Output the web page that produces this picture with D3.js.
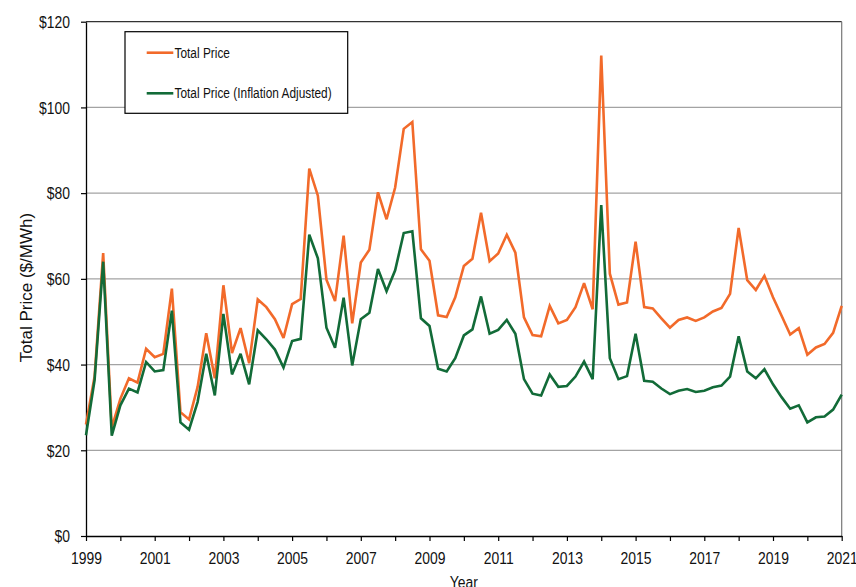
<!DOCTYPE html>
<html>
<head>
<meta charset="utf-8">
<script src="https://cdn.jsdelivr.net/npm/d3@7"></script>
<style>
  body { margin: 0; background: #fff; }
  svg { display: block; font-family: "Liberation Sans", Arial, sans-serif; }
</style>
</head>
<body>
<figure id="chart" style="margin:0"></figure>
<script>
// quarterly values, 1999 Q1 .. 2021 Q1
const startYear = 1999;
const endYear = 2021;

const totalPrice = [
  26.0, 37.2, 66.0, 25.3, 32.0, 36.8, 35.8, 43.7, 41.7, 42.5, 57.7, 28.9, 27.2, 34.8, 47.3, 36.8,
  58.5, 42.7, 48.5, 40.3, 55.2, 53.4, 50.6, 46.2, 54.1, 55.3, 85.7, 79.4, 59.8, 54.8, 70.1, 49.6,
  63.8, 66.8, 80.2, 73.9, 81.3, 95.0, 96.6, 66.9, 64.2, 51.5, 51.1, 55.7, 63.0, 64.7, 75.4, 64.1,
  65.9, 70.3, 66.1, 51.0, 46.9, 46.6, 53.7, 49.6, 50.4, 53.4, 59.0, 52.9, 112.1, 61.2, 54.0, 54.5,
  68.7, 53.4, 53.1, 50.8, 48.6, 50.4, 51.0, 50.2, 51.0, 52.4, 53.2, 56.5, 71.9, 59.7, 57.4, 60.7,
  55.7, 51.4, 47.0, 48.5, 42.3, 44.0, 44.8, 47.4, 53.7
];

const totalPriceAdjusted = [
  23.5, 36.4, 64.0, 23.4, 30.5, 34.4, 33.5, 40.6, 38.4, 38.7, 52.6, 26.5, 24.8, 31.3, 42.5, 32.8,
  51.8, 37.7, 42.5, 35.4, 48.0, 45.9, 43.5, 39.3, 45.5, 46.0, 70.3, 64.8, 48.6, 43.9, 55.6, 39.8,
  50.6, 52.1, 62.3, 57.1, 62.0, 70.7, 71.1, 50.8, 49.0, 39.0, 38.4, 41.5, 46.8, 48.2, 55.9, 47.2,
  48.1, 50.4, 47.2, 36.6, 33.2, 32.8, 37.7, 34.8, 35.0, 37.2, 40.7, 36.6, 77.2, 41.5, 36.6, 37.3,
  47.2, 36.2, 36.0, 34.4, 33.1, 33.9, 34.3, 33.6, 33.9, 34.7, 35.1, 37.2, 46.6, 38.4, 36.8, 38.9,
  35.4, 32.4, 29.7, 30.5, 26.5, 27.7, 27.9, 29.5, 33.0
];

const yTicks = [0, 20, 40, 60, 80, 100, 120];
const seriesNames = ["Total Price", "Total Price (Inflation Adjusted)"];
const seriesColors = ["#f26a2a", "#126b38"];

const width = 856, height = 587;
const plot = {left: 86, right: 841.7, top: 21.7, bottom: 536};
const squeeze = 0.82; // horizontal text narrowing seen in the source

const svg = d3.select("figure#chart")
  .append("svg")
  .attr("width", width)
  .attr("height", height);

svg.append("rect").attr("width", width).attr("height", height).attr("fill", "#fff");

const x = d3.scaleLinear().domain([startYear, endYear]).range([plot.left, plot.right]);
const y = d3.scaleLinear().domain([0, 120]).range([plot.bottom, plot.top]);

// gridlines
svg.append("g")
  .selectAll("line")
  .data(yTicks.filter(d => d > 0 && d < 120))
  .enter()
  .append("line")
  .attr("x1", plot.left)
  .attr("x2", plot.right)
  .attr("y1", d => y(d))
  .attr("y2", d => y(d))
  .attr("stroke", "#a3a3a3")
  .attr("stroke-width", 1.3);

// top + right frame
svg.append("line")
  .attr("x1", plot.left).attr("x2", plot.right)
  .attr("y1", y(120)).attr("y2", y(120))
  .attr("stroke", "#333").attr("stroke-width", 1.2);
svg.append("line")
  .attr("x1", plot.right).attr("x2", plot.right)
  .attr("y1", y(120)).attr("y2", y(0))
  .attr("stroke", "#777").attr("stroke-width", 1.2);

// x axis, a tick every year, label every other year
const years = d3.range(startYear, endYear + 1);
const xAxis = svg.append("g")
  .attr("transform", "translate(0," + plot.bottom + ")")
  .call(d3.axisBottom(x)
    .tickValues(years)
    .tickSize(5)
    .tickSizeOuter(0)
    .tickFormat(d => (d - startYear) % 2 === 0 ? String(d) : ""));
xAxis.select(".domain").attr("stroke", "#000").attr("stroke-width", 1.3);
xAxis.selectAll(".tick line").attr("stroke", "#000").attr("stroke-width", 1.2);
xAxis.selectAll("text")
  .attr("y", 16)
  .attr("dy", "0.71em")
  .attr("transform", "scale(" + squeeze + ",1)")
  .style("font-size", "17px")
  .style("font-family", "Liberation Sans, Arial, sans-serif")
  .attr("fill", "#111");

// y axis
const yAxis = svg.append("g")
  .attr("transform", "translate(" + plot.left + ",0)")
  .call(d3.axisLeft(y)
    .tickValues(yTicks)
    .tickSize(5)
    .tickSizeOuter(0)
    .tickFormat(d => "$" + d));
yAxis.select(".domain").attr("stroke", "#000").attr("stroke-width", 1.3);
yAxis.selectAll(".tick line").attr("stroke", "#000").attr("stroke-width", 1.2);
yAxis.selectAll("text")
  .attr("x", -16 / squeeze)
  .attr("dy", "0.34em")
  .attr("transform", "scale(" + squeeze + ",1)")
  .style("font-size", "17px")
  .style("font-family", "Liberation Sans, Arial, sans-serif")
  .attr("fill", "#111");

// axis titles
svg.append("g")
  .attr("transform", "translate(" + ((plot.left + plot.right) / 2) + ",588)")
  .append("text")
  .attr("text-anchor", "middle")
  .attr("transform", "scale(" + squeeze + ",1)")
  .style("font-size", "17px")
  .attr("fill", "#111")
  .text("Year");

svg.append("text")
  .attr("transform", "translate(31.5,287.5) rotate(-90)")
  .attr("text-anchor", "middle")
  .style("font-size", "17px")
  .attr("fill", "#111")
  .text("Total Price ($/MWh)");

// lines
const line = d3.line()
  .x((d, i) => x(startYear + i / 4))
  .y(d => y(d));

[totalPrice, totalPriceAdjusted].forEach((series, k) => {
  svg.append("path")
    .datum(series)
    .attr("d", line)
    .attr("fill", "none")
    .attr("stroke", seriesColors[k])
    .attr("stroke-width", 2.6)
    .attr("stroke-linejoin", "miter")
    .attr("stroke-miterlimit", 3);
});

// legend
svg.append("rect")
  .attr("x", 125).attr("y", 31.7)
  .attr("width", 222.7).attr("height", 81.6)
  .attr("fill", "#fff")
  .attr("stroke", "#000")
  .attr("stroke-width", 1.2);

const legendRows = [52.7, 93.3];
seriesNames.forEach((name, k) => {
  svg.append("line")
    .attr("x1", 146.7).attr("x2", 173.3)
    .attr("y1", legendRows[k]).attr("y2", legendRows[k])
    .attr("stroke", seriesColors[k])
    .attr("stroke-width", 2.6);
  svg.append("g")
    .attr("transform", "translate(174.5," + legendRows[k] + ")")
    .append("text")
    .attr("dy", "0.35em")
    .attr("transform", "scale(" + squeeze + ",1)")
    .style("font-size", "14.5px")
    .attr("fill", "#111")
    .text(name);
});
</script>
</body>
</html>
